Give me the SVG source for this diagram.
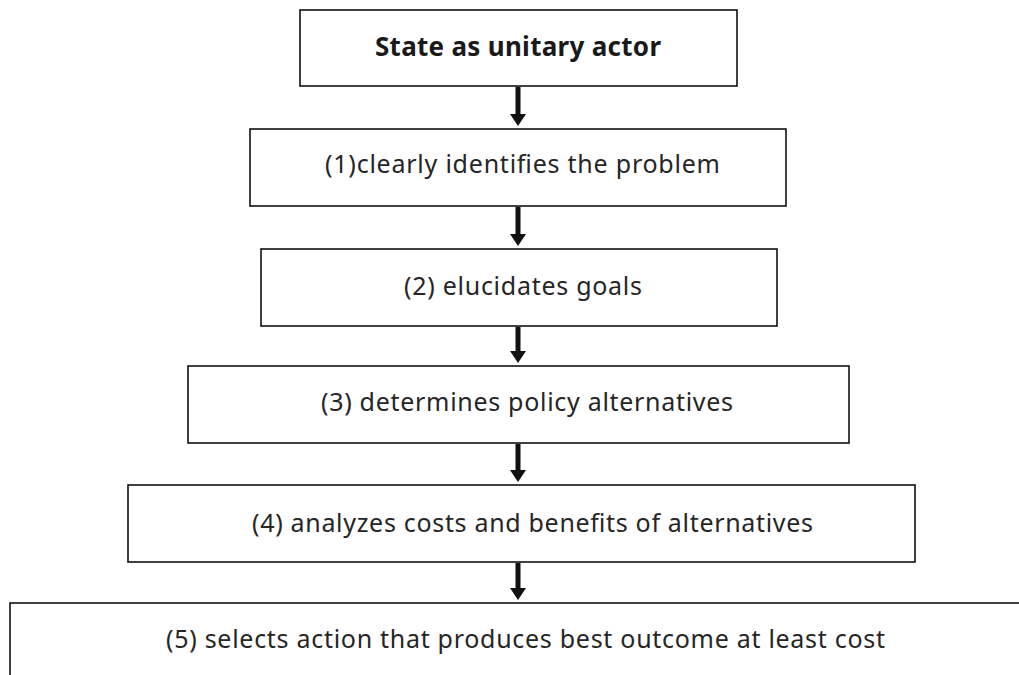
<svg xmlns="http://www.w3.org/2000/svg" width="1019" height="675" viewBox="0 0 1019 675">
  <style>
    .box { fill: #ffffff; stroke: #111111; stroke-width: 1.6; }
    .label { font-family: "Noto Sans", "Open Sans", sans-serif; font-size: 25px; fill: #262626; }
    .title { font-size: 26px; font-weight: bold; fill: #1a1a1a; }
    .conn { stroke: #111111; stroke-width: 5; fill: none; marker-end: url(#head); }
  </style>
  <defs>
    <!-- solid triangular arrowhead, tip at the far end of the shaft -->
    <marker id="head" viewBox="0 0 12 16" refX="6" refY="8" markerUnits="userSpaceOnUse" markerWidth="12" markerHeight="16" orient="auto">
      <path d="M0,0 L12,8 L0,16 Z" fill="#111111"/>
    </marker>
  </defs>
  <rect width="1019" height="675" fill="#ffffff"/>

  <g id="connectors">
    <line class="conn" x1="518" y1="87" x2="518" y2="120"/>
    <line class="conn" x1="518" y1="207" x2="518" y2="240"/>
    <line class="conn" x1="518" y1="327" x2="518" y2="357"/>
    <line class="conn" x1="518" y1="444" x2="518" y2="476"/>
    <line class="conn" x1="518" y1="563" x2="518" y2="594"/>
  </g>

  <g id="actor">
    <rect class="box" x="300" y="10" width="437" height="76"/>
    <text class="label title" x="375" y="56" textLength="286">State as unitary actor</text>
  </g>
  <g id="step1">
    <rect class="box" x="250" y="129" width="536" height="77"/>
    <text class="label" x="325" y="173" textLength="395">(1)clearly identifies the problem</text>
  </g>
  <g id="step2">
    <rect class="box" x="261" y="249" width="516" height="77"/>
    <text class="label" x="404" y="295" textLength="238">(2) elucidates goals</text>
  </g>
  <g id="step3">
    <rect class="box" x="188" y="366" width="661" height="77"/>
    <text class="label" x="321" y="411" textLength="412">(3) determines policy alternatives</text>
  </g>
  <g id="step4">
    <rect class="box" x="128" y="485" width="787" height="77"/>
    <text class="label" x="252" y="532" textLength="561">(4) analyzes costs and benefits of alternatives</text>
  </g>
  <g id="step5">
    <rect class="box" x="10" y="603" width="1030" height="100"/>
    <text class="label" x="166" y="648" textLength="719">(5) selects action that produces best outcome at least cost</text>
  </g>
</svg>
